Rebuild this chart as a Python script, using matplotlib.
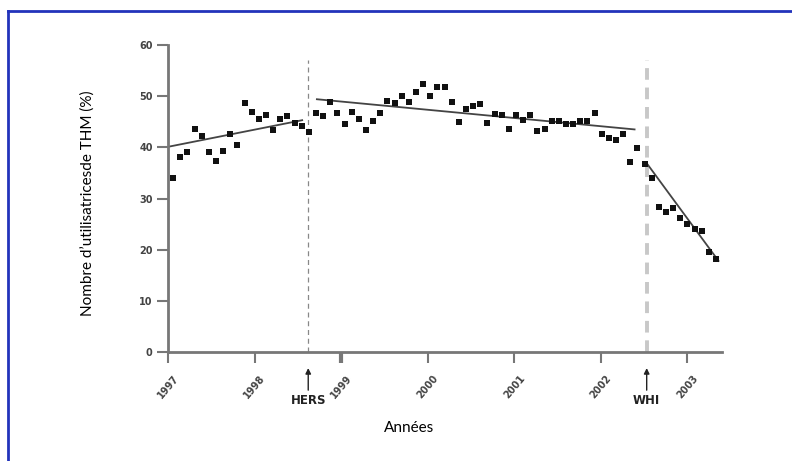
import numpy as np
import matplotlib.pyplot as plt
from matplotlib.lines import Line2D

# pourcentage mensuel d'utilisatrices de THM, janv. 1997 -> mai 2003
thm_1997 = [34.1, 38.2, 39.0, 43.5, 42.2, 39.0, 37.3, 39.3, 42.6, 40.5, 48.6, 46.9]
thm_1998 = [45.5, 46.3, 43.4, 45.5, 46.2, 44.7, 44.2, 43.0, 46.8, 46.1, 48.8, 46.8]
thm_1999 = [44.6, 47.0, 45.5, 43.4, 45.2, 46.8, 49.1, 48.6, 50.0, 48.9, 50.9, 52.4]
thm_2000 = [50.0, 51.7, 51.7, 48.8, 44.9, 47.4, 48.1, 48.5, 44.8, 46.5, 46.3, 43.5]
thm_2001 = [46.3, 45.3, 46.3, 43.2, 43.5, 45.2, 45.2, 44.6, 44.6, 45.2, 45.2, 46.8]
thm_2002 = [42.6, 41.9, 41.5, 42.6, 37.1, 39.8, 36.7, 34.1, 28.3, 27.4, 28.2, 26.1]
thm_2003 = [25.0, 24.0, 23.7, 19.6, 18.1]

annees = [1997, 1998, 1999, 2000, 2001, 2002, 2003]

# droites de tendance par periode (debut, fin) x (valeur debut, valeur fin)
tend_x = [(1997.0, 1998.55), (1998.72, 2002.39), (2002.53, 2003.36)]
tend_y = [(40.1, 45.3), (49.4, 43.5), (36.9, 17.8)]

hers = 1998.62
whi = 2002.53

y = np.array(thm_1997 + thm_1998 + thm_1999 + thm_2000 + thm_2001 + thm_2002 + thm_2003)
x = 1997.06 + np.arange(len(y)) * 0.0825

plt.rcParams['font.family'] = ['Lato', 'DejaVu Sans']

fig = plt.figure(figsize=(7.92, 4.61), dpi=100)
ax = fig.add_axes([168/792, 109/461, 554/792, 307/461])

ax.scatter(x, y, marker='s', s=16, color='#111111', zorder=3, linewidths=0)
for tx, ty in zip(tend_x, tend_y):
    ax.plot(tx, ty, color='#444444', lw=1.3, zorder=2)

ax.plot([hers, hers], [0, 57], color='#888888', lw=0.9, ls=(0, (4, 3)), zorder=1)
ax.plot([whi, whi], [0, 57], color='#c8c8c8', lw=2.8, ls=(0, (3, 2)), zorder=1)

ax.set_xlim(1997, 2003.4)
ax.set_ylim(0, 60)
ax.spines['top'].set_visible(False)
ax.spines['right'].set_visible(False)
for s in ('left', 'bottom'):
    ax.spines[s].set_color('#777777')
    ax.spines[s].set_linewidth(2)

ax.set_yticks(range(0, 61, 10))
ax.set_xticks(annees)
ax.set_xticklabels([str(a) for a in annees], rotation=50, ha='center',
                   fontsize=7, color='#444444', fontweight='bold', family='DejaVu Sans')
ax.tick_params(axis='x', length=8, width=1.5, color='#777777', pad=7)
ax.tick_params(axis='y', length=8, width=1.5, color='#777777', labelsize=7,
               labelcolor='#444444', pad=3)
for lab in ax.get_yticklabels():
    lab.set_fontweight('bold')
    lab.set_family('DejaVu Sans')
# tick 1999 plus clair
ax.get_xticklines()[4].set_color('#c0c0c0')
ax.get_xticklines()[4].set_markeredgewidth(3)

# fleches HERS / WHI sous l'axe
for pos, nom in ((hers, 'HERS'), (whi, 'WHI')):
    ax.annotate('', xy=(pos, -2.6), xytext=(pos, -8.0), xycoords='data',
                arrowprops=dict(arrowstyle='-|>', color='#222222', lw=1, mutation_scale=8),
                annotation_clip=False)
    ax.text(pos, -8.3, nom, ha='center', va='top', fontsize=8.5, fontweight='bold',
            color='#222222', family='DejaVu Sans', clip_on=False)

ax.set_xlabel('Années', fontsize=11)
ax.xaxis.set_label_coords(0.435, -0.225)
fig.text(88/792, 1 - 203/461, 'Nombre d\u2019utilisatricesde THM (%)', rotation=90,
         ha='center', va='center', fontsize=11)

# cadre bleu
fig.add_artist(Line2D([8/792, 8/792], [0, 1 - 11/461], color='#2233bb', lw=2))
fig.add_artist(Line2D([8/792, 1], [1 - 11/461, 1 - 11/461], color='#2233bb', lw=2))

fig.savefig('out.png', dpi=100)
